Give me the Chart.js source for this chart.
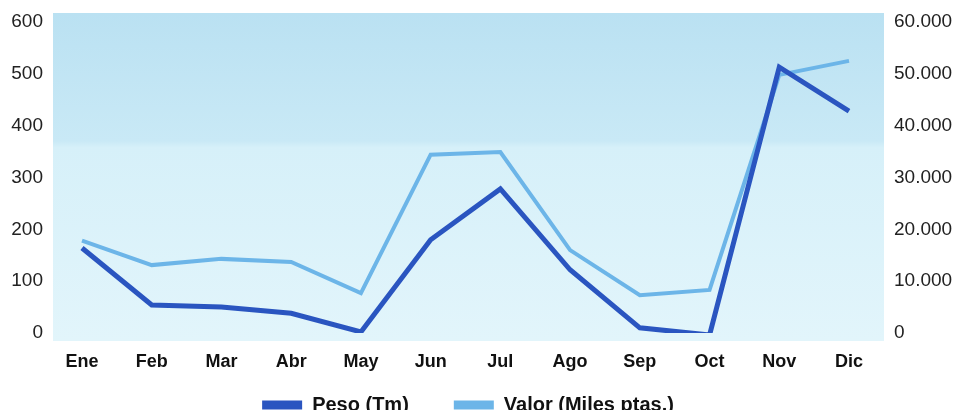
<!DOCTYPE html>
<html>
<head>
<meta charset="utf-8">
<script src="https://cdn.jsdelivr.net/npm/chart.js@4.4.1/dist/chart.umd.min.js"></script>
<style>
  html, body { margin: 0; padding: 0; background: #fff; overflow: hidden; }
  #wrap { position: relative; width: 954px; height: 453px; }
</style>
</head>
<body>
<div id="wrap"><canvas id="chart"></canvas></div>
<script>
const months = ["Ene","Feb","Mar","Abr","May","Jun","Jul","Ago","Sep","Oct","Nov","Dic"];
const peso = [164, 54, 50, 38, 2, 180, 278, 122, 10, -4, 513, 428];
const valor = [17800, 13100, 14300, 13700, 7700, 34400, 34900, 16000, 7300, 8300, 49800, 52500];
const leftTicks = [0, 100, 200, 300, 400, 500, 600];
const rightTicks = [0, 10000, 20000, 30000, 40000, 50000, 60000];

/* fondo azul del area de trazado */
const plotBackground = {
  id: "plotBackground",
  beforeDatasetsDraw(chart) {
    const a = chart.chartArea;
    const ctx = chart.ctx;
    const x0 = a.left - 29, x1 = a.right + 35;
    const y0 = a.top - 9, y1 = a.bottom + 8;
    const g = ctx.createLinearGradient(0, y0, 0, y1);
    g.addColorStop(0, "#bae1f2");
    g.addColorStop(0.39, "#c9e9f6");
    g.addColorStop(0.41, "#d6f0f9");
    g.addColorStop(1, "#e2f5fb");
    ctx.save();
    ctx.fillStyle = g;
    ctx.fillRect(x0, y0, x1 - x0, y1 - y0);
    ctx.restore();
  }
};

/* subir la leyenda (queda cortada abajo, como en el original) */
const legendShift = {
  id: "legendShift",
  afterLayout(chart) {
    const lg = chart.legend;
    lg.top -= 28;
    lg.bottom -= 28;
    lg.left -= 9;
    lg.right -= 9;
  }
};

function fmt(v) {
  return v.toString().replace(/\B(?=(\d{3})+(?!\d))/g, ".");
}

function noPad(s) {
  s.paddingTop = 0;
  s.paddingBottom = 0;
}

new Chart(document.getElementById("chart"), {
  type: "line",
  data: {
    labels: months,
    datasets: [
      {label: "Peso (Tm)", data: peso, yAxisID: "y", borderColor: "#2a55c0", backgroundColor: "#2a55c0",
       borderWidth: 5, pointRadius: 0, tension: 0, borderJoinStyle: "miter"},
      {label: "Valor (Miles ptas.)", data: valor, yAxisID: "y2", borderColor: "#6cb5e8", backgroundColor: "#6cb5e8",
       borderWidth: 4, pointRadius: 0, tension: 0, borderJoinStyle: "miter"}
    ]
  },
  options: {
    responsive: true,
    maintainAspectRatio: false,
    animation: false,
    layout: {padding: {left: 0, right: 0, top: 22, bottom: 0}},
    plugins: {
      tooltip: {enabled: false},
      legend: {
        position: "bottom",
        labels: {
          boxWidth: 40, boxHeight: 9, padding: 45, color: "#111",
          font: {family: "Liberation Sans, Arial", size: 20, weight: "bold"},
          generateLabels(chart) {
            return Chart.defaults.plugins.legend.labels.generateLabels(chart)
              .map(l => Object.assign(l, {lineWidth: 0}));
          }
        }
      }
    },
    scales: {
      x: {
        offset: false,
        grid: {display: false, drawTicks: false},
        border: {display: false},
        afterFit(s) { s.height = 45; },
        ticks: {padding: 18, color: "#111", font: {family: "Liberation Sans, Arial", size: 18, weight: "bold"}}
      },
      y: {
        position: "left",
        min: 0, max: 600,
        grid: {display: false, drawTicks: false},
        border: {display: false},
        afterFit(s) { s.width = 82; noPad(s); },
        afterBuildTicks(s) { s.ticks = leftTicks.map(v => ({value: v})); },
        ticks: {padding: 39, color: "#222", font: {family: "Liberation Sans, Arial", size: 19}}
      },
      y2: {
        position: "right",
        min: 0, max: 60000,
        grid: {display: false, drawTicks: false},
        border: {display: false},
        afterFit(s) { s.width = 105; noPad(s); },
        afterBuildTicks(s) { s.ticks = rightTicks.map(v => ({value: v})); },
        ticks: {padding: 45, color: "#222", font: {family: "Liberation Sans, Arial", size: 19}, callback: v => fmt(v)}
      }
    }
  },
  plugins: [plotBackground, legendShift]
});
</script>
</body>
</html>
